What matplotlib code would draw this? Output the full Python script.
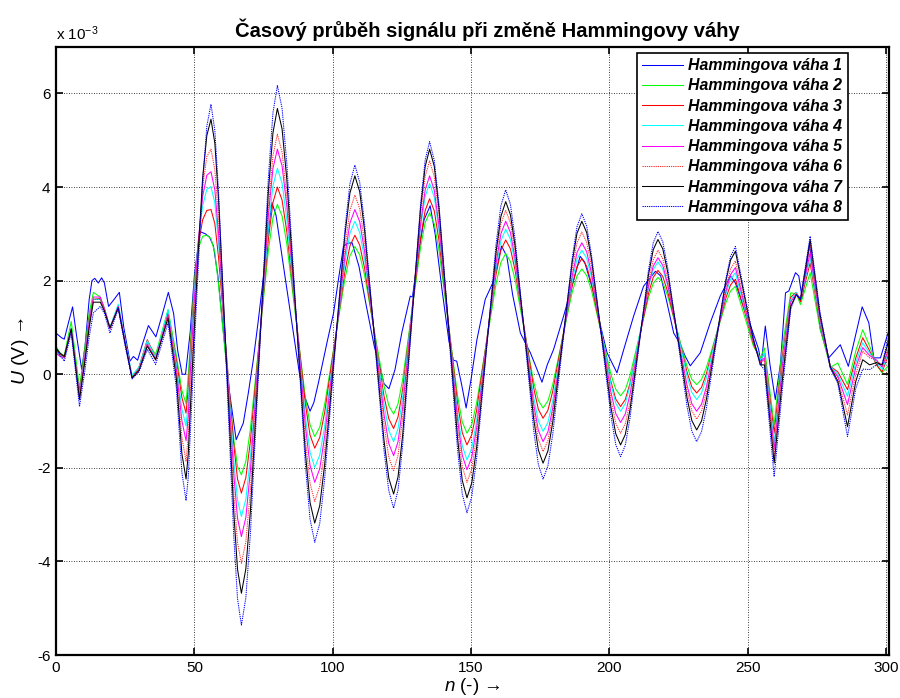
import matplotlib
matplotlib.use('Agg')
import matplotlib.pyplot as plt

plt.rcParams['font.family'] = ['Liberation Sans', 'DejaVu Sans']
plt.rcParams['mathtext.fontset'] = 'custom'
plt.rcParams['mathtext.rm'] = 'Liberation Sans'
plt.rcParams['mathtext.it'] = 'Liberation Sans:italic'
plt.rcParams['mathtext.bf'] = 'Liberation Sans:bold'
plt.rcParams['axes.unicode_minus'] = False

# ---------------- data (U in units of 1e-3 V) ----------------
TITLE = 'Časový průběh signálu při změně Hammingovy váhy'
LABELS = ['Hammingova váha %d' % k for k in range(1, 9)]
X_TICKS = [0, 50, 100, 150, 200, 250, 300]
Y_TICKS = [-6, -4, -2, 0, 2, 4, 6]

# series 1 (own sample positions)
N1 = [0, 2, 3, 4.5, 6, 7.5, 9.3, 10.5, 12, 13, 14, 15.3, 16.5, 17.5, 19, 21, 22.9, 24.5,
      26.7, 28, 29.5, 31, 33.4, 36.1, 38.5, 40.6, 42.5, 44, 45.6, 46.8, 48.5, 50, 52, 54,
      55.5, 56.9, 58.5, 60.5, 62.5, 65.1, 67.7, 69.5, 71.3, 73, 75, 77, 78, 79.5, 82.2, 85,
      88, 90, 91.8, 93.2, 94.8, 97.9, 100.3, 102, 103.9, 105.5, 107, 109.5, 112, 115, 117.3,
      118.5, 120.3, 122.5, 125, 128, 128.8, 131, 133, 135.2, 137, 139.5, 142, 143.6, 144.8,
      146.5, 148.2, 150, 152.1, 155.1, 158.1, 161, 162.9, 165, 167.8, 171.4, 173.5, 175.6,
      177.5, 179.8, 183.4, 185.8, 189.4, 191, 194.3, 196.5, 199.1, 202.7, 205.5, 208.7,
      212.3, 216.6, 218.5, 220.5, 223.2, 225.5, 227.4, 229.2, 232.8, 236.4, 240, 243.7,
      245.5, 247.9, 251.5, 253.9, 254.8, 256.3, 258, 259.9, 261.8, 263.6, 264.8, 267.2,
      268.4, 269.6, 272.3, 276.2, 279.2, 283.4, 286.3, 291.3, 293.7, 295.5, 297.9, 301]
S1 = [0.88, 0.78, 0.75, 1.1, 1.44, 0.8, 0.1, 0.6, 1.6, 2.0, 2.05, 1.95, 2.06, 1.95, 1.45, 1.6,
      1.75, 1.0, 0.28, 0.38, 0.3, 0.6, 1.04, 0.8, 1.3, 1.75, 1.3, 0.5, 0.0, 0.0, 0.9, 2.1,
      3.05, 3.0, 2.93, 2.74, 2.1, 0.9, -0.3, -1.4, -1.04, -0.4, 0.31, 1.1, 2.1, 3.2, 3.67,
      3.4, 2.31, 1.2, 0.0, -0.5, -0.79, -0.6, -0.19, 0.67, 1.31, 2.0, 2.74, 2.8, 2.81, 2.3,
      1.5, 0.6, 0.1, -0.2, -0.31, 0.1, 0.9, 1.67, 1.65, 2.6, 3.3, 3.6, 3.0, 1.8, 0.7, 0.3,
      0.28, -0.2, -0.72, -0.1, 0.74, 1.6, 1.99, 2.74, 2.52, 1.7, 0.88, 0.46, 0.15, -0.17,
      0.2, 0.53, 1.24, 1.74, 2.52, 2.4, 1.74, 1.1, 0.46, 0.03, 0.6, 1.24, 1.88, 2.2, 2.1,
      1.6, 0.88, 0.65, 0.38, 0.18, 0.46, 1.1, 1.67, 2.1, 1.95, 1.53, 0.95, 0.53, 0.2, 1.03,
      0.2, -0.54, 0.24, 1.74, 1.78, 2.17, 2.1, 1.63, 2.77, 0.95, 0.35, 0.63, 0.17, 1.44,
      1.1, 0.35, 0.35, 0.95]

# series 2..8 share sample positions
N_GRID = [0, 1.5, 3, 5.5, 8.5, 10.5, 12, 13.5, 16, 17.5, 19.5, 22.5, 25, 27.5, 30, 33, 36, 40.5,
          43.5, 45.5, 47, 47.8,
          48.5, 50, 51.5, 53, 54.5, 56,
          57.4, 58.75, 61.5, 64.25, 65.6, 67,
          68.6, 70.25, 73.5, 76.75, 78.4, 80,
          81.7, 83.4, 86.75, 90.1, 91.8, 93.5,
          95.3, 97.1, 100.75, 104.4, 106.2, 108,
          109.75, 111.5, 115, 118.5, 120.25, 122,
          123.6, 125.25, 128.5, 131.75, 133.4, 135,
          136.7, 138.4, 141.75, 145.1, 146.8, 148.5,
          150.25, 152, 155.5, 159, 160.75, 162.5,
          164.2, 165.9, 169.25, 172.6, 174.3, 176,
          177.75, 179.5, 183, 186.5, 188.25, 190,
          191.75, 193.5, 197, 200.5, 202.25, 204,
          205.7, 207.4, 210.75, 214.1, 215.8, 217.5,
          219.25, 221, 224.5, 228, 229.75, 231.5,
          233.25, 235, 238.5, 242, 243.75, 245.5,
          249.5, 252, 254.5, 256, 259.5, 262.5, 265.5, 267.5, 269, 272.5, 276, 279.8, 282.5, 286,
          289, 291.5, 294, 296.5, 298.5, 301]

S2 = [0.6, 0.45, 0.4, 1.13, -0.29, 0.6, 1.3, 1.75, 1.65, 1.4, 1.0, 1.45, 0.7, -0.05, 0.15, 0.7, 0.42, 1.38,
      0.4, -0.35, -0.63, 0.0,
      0.6, 2.0, 2.7, 2.95, 2.97, 2.9,
      2.6, 1.9, 0.25, -1.4, -1.97, -2.15,
      -1.86, -1.17, 0.74, 2.65, 3.34, 3.63,
      3.38, 2.79, 1.15, -0.49, -1.08, -1.33,
      -1.13, -0.64, 0.70, 2.04, 2.53, 2.73,
      2.55, 2.12, 0.94, -0.24, -0.67, -0.85,
      -0.63, -0.12, 1.30, 2.72, 3.24, 3.45,
      3.21, 2.65, 1.09, -0.46, -1.02, -1.26,
      -1.07, -0.61, 0.66, 1.93, 2.39, 2.58,
      2.41, 2.02, 0.93, -0.16, -0.56, -0.72,
      -0.57, -0.22, 0.77, 1.75, 2.10, 2.25,
      2.11, 1.79, 0.89, 0.00, -0.32, -0.46,
      -0.33, -0.03, 0.81, 1.64, 1.94, 2.07,
      1.96, 1.68, 0.92, 0.17, -0.11, -0.22,
      -0.11, 0.14, 0.83, 1.52, 1.78, 1.88,
      1.1, 0.6, 0.35, 0.56, -1.08, 0.6, 1.74, 1.72, 1.49, 2.17, 1.0, 0.15, 0.24, -0.22,
      0.5, 0.95, 0.6, 0.2, 0.03, 0.2]

S3 = [0.55, 0.42, 0.38, 0.95, -0.4, 0.5, 1.2, 1.6, 1.62, 1.4, 0.99, 1.45, 0.7, -0.08, 0.15, 0.74, 0.35, 1.31,
      0.3, -0.5, -0.83, -0.3,
      0.4, 1.9, 2.8, 3.3, 3.5, 3.52,
      3.22, 2.49, 0.49, -1.51, -2.24, -2.54,
      -2.21, -1.43, 0.73, 2.89, 3.67, 4.00,
      3.72, 3.05, 1.21, -0.63, -1.30, -1.58,
      -1.35, -0.81, 0.70, 2.20, 2.74, 2.97,
      2.76, 2.27, 0.90, -0.46, -0.95, -1.16,
      -0.91, -0.33, 1.30, 2.92, 3.50, 3.75,
      3.49, 2.86, 1.12, -0.62, -1.25, -1.51,
      -1.29, -0.77, 0.68, 2.13, 2.65, 2.87,
      2.68, 2.22, 0.96, -0.29, -0.75, -0.94,
      -0.77, -0.36, 0.77, 1.89, 2.30, 2.47,
      2.31, 1.93, 0.89, -0.15, -0.53, -0.69,
      -0.54, -0.20, 0.77, 1.73, 2.07, 2.22,
      2.09, 1.77, 0.91, 0.05, -0.27, -0.40,
      -0.28, 0.01, 0.82, 1.62, 1.91, 2.03,
      1.2, 0.65, 0.3, 0.45, -1.26, 0.4, 1.65, 1.75, 1.55, 2.38, 1.1, 0.17, 0.05, -0.33,
      0.35, 0.78, 0.5, 0.2, 0.05, 0.45]

S4 = [0.5, 0.4, 0.36, 1.0, -0.45, 0.45, 1.15, 1.6, 1.6, 1.4, 1.0, 1.5, 0.72, -0.02, 0.15, 0.72, 0.35, 1.38,
      0.2, -0.75, -1.11, -0.6,
      0.2, 1.8, 2.9, 3.6, 3.95, 4.01,
      3.66, 2.81, 0.49, -1.84, -2.69, -3.04,
      -2.67, -1.78, 0.68, 3.14, 4.03, 4.40,
      4.08, 3.31, 1.20, -0.90, -1.67, -1.99,
      -1.73, -1.10, 0.64, 2.38, 3.01, 3.27,
      3.03, 2.47, 0.91, -0.64, -1.20, -1.44,
      -1.16, -0.50, 1.32, 3.14, 3.80, 4.08,
      3.78, 3.08, 1.12, -0.83, -1.53, -1.83,
      -1.58, -0.99, 0.64, 2.26, 2.85, 3.10,
      2.88, 2.37, 0.94, -0.49, -1.00, -1.22,
      -1.03, -0.56, 0.72, 1.99, 2.46, 2.65,
      2.48, 2.07, 0.93, -0.21, -0.62, -0.79,
      -0.63, -0.25, 0.81, 1.86, 2.24, 2.40,
      2.25, 1.90, 0.93, -0.04, -0.39, -0.54,
      -0.40, -0.08, 0.82, 1.71, 2.03, 2.17,
      1.25, 0.7, 0.3, 0.45, -1.47, 0.3, 1.6, 1.75, 1.6, 2.49, 1.15, 0.17, 0.0, -0.47,
      0.25, 0.67, 0.45, 0.25, 0.1, 0.5]

S5 = [0.45, 0.38, 0.35, 0.95, -0.5, 0.4, 1.1, 1.65, 1.65, 1.4, 0.97, 1.45, 0.68, -0.08, 0.1, 0.65, 0.32, 1.28,
      0.1, -1.0, -1.42, -0.9,
      0.0, 1.6, 2.9, 3.8, 4.25, 4.33,
      3.94, 3.00, 0.43, -2.14, -3.08, -3.47,
      -3.06, -2.06, 0.67, 3.40, 4.40, 4.81,
      4.45, 3.60, 1.25, -1.10, -1.95, -2.31,
      -2.02, -1.32, 0.61, 2.53, 3.23, 3.52,
      3.26, 2.63, 0.89, -0.85, -1.48, -1.74,
      -1.44, -0.72, 1.25, 3.22, 3.94, 4.24,
      3.93, 3.17, 1.10, -0.97, -1.73, -2.04,
      -1.77, -1.14, 0.62, 2.37, 3.00, 3.27,
      3.03, 2.47, 0.91, -0.64, -1.20, -1.44,
      -1.23, -0.72, 0.69, 2.09, 2.60, 2.81,
      2.62, 2.16, 0.89, -0.38, -0.84, -1.03,
      -0.85, -0.43, 0.73, 1.89, 2.31, 2.49,
      2.33, 1.93, 0.85, -0.23, -0.63, -0.79,
      -0.64, -0.27, 0.75, 1.76, 2.13, 2.28,
      1.3, 0.7, 0.25, 0.35, -1.61, 0.2, 1.55, 1.72, 1.6, 2.60, 1.2, 0.15, -0.05, -0.65,
      0.15, 0.57, 0.4, 0.3, 0.15, 0.55]

S6 = [0.5, 0.4, 0.36, 0.97, -0.5, 0.35, 1.05, 1.6, 1.6, 1.38, 0.97, 1.42, 0.66, -0.08, 0.1, 0.62, 0.3, 1.25,
      0.0, -1.35, -1.86, -1.3,
      -0.4, 1.3, 2.8, 4.0, 4.65, 4.81,
      4.37, 3.31, 0.38, -2.54, -3.60, -4.04,
      -3.58, -2.48, 0.55, 3.57, 4.67, 5.13,
      4.74, 3.80, 1.20, -1.39, -2.33, -2.72,
      -2.39, -1.61, 0.56, 2.72, 3.50, 3.83,
      3.54, 2.83, 0.88, -1.06, -1.77, -2.06,
      -1.73, -0.93, 1.25, 3.43, 4.23, 4.56,
      4.22, 3.39, 1.12, -1.14, -1.97, -2.31,
      -2.02, -1.32, 0.60, 2.51, 3.21, 3.50,
      3.24, 2.62, 0.92, -0.77, -1.39, -1.65,
      -1.42, -0.85, 0.70, 2.24, 2.81, 3.04,
      2.82, 2.31, 0.89, -0.53, -1.05, -1.26,
      -1.06, -0.60, 0.70, 1.99, 2.45, 2.65,
      2.47, 2.04, 0.84, -0.35, -0.78, -0.96,
      -0.79, -0.39, 0.73, 1.85, 2.25, 2.42,
      1.35, 0.7, 0.25, 0.3, -1.76, 0.05, 1.5, 1.72, 1.63, 2.77, 1.25, 0.17, -0.1, -0.87,
      0.0, 0.49, 0.35, 0.3, 0.17, 0.6]

S7 = [0.56, 0.45, 0.38, 0.97, -0.54, 0.3, 1.0, 1.54, 1.54, 1.35, 0.99, 1.42, 0.65, -0.08, 0.08, 0.6, 0.31, 1.2,
      -0.1, -1.7, -2.24, -1.7,
      -0.8, 1.0, 2.7, 4.2, 5.1, 5.45,
      4.94, 3.73, 0.38, -2.96, -4.17, -4.68,
      -4.16, -2.92, 0.50, 3.92, 5.16, 5.68,
      5.24, 4.17, 1.25, -1.67, -2.74, -3.18,
      -2.81, -1.92, 0.53, 2.98, 3.87, 4.24,
      3.90, 3.08, 0.84, -1.40, -2.22, -2.56,
      -2.19, -1.31, 1.13, 3.56, 4.44, 4.81,
      4.44, 3.54, 1.08, -1.37, -2.27, -2.64,
      -2.32, -1.56, 0.53, 2.61, 3.37, 3.69,
      3.41, 2.74, 0.89, -0.95, -1.62, -1.90,
      -1.64, -1.02, 0.69, 2.39, 3.01, 3.27,
      3.03, 2.46, 0.88, -0.70, -1.27, -1.51,
      -1.29, -0.76, 0.69, 2.13, 2.66, 2.88,
      2.68, 2.19, 0.84, -0.50, -0.99, -1.19,
      -1.00, -0.54, 0.72, 1.98, 2.44, 2.63,
      1.45, 0.75, 0.2, 0.2, -1.90, -0.1, 1.45, 1.7, 1.6, 2.88, 1.3, 0.15, -0.15, -1.12,
      -0.15, 0.31, 0.2, 0.25, 0.2, 0.75]

S8 = [0.55, 0.4, 0.28, 0.88, -0.69, 0.1, 0.8, 1.31, 1.45, 1.3, 0.88, 1.4, 0.6, -0.1, 0.05, 0.53, 0.21, 1.1,
      -0.3, -2.1, -2.70, -2.2,
      -1.3, 0.6, 2.4, 4.1, 5.3, 5.77,
      5.21, 3.88, 0.20, -3.47, -4.80, -5.36,
      -4.78, -3.40, 0.41, 4.21, 5.59, 6.17,
      5.68, 4.51, 1.29, -1.93, -3.10, -3.59,
      -3.19, -2.22, 0.44, 3.10, 4.07, 4.47,
      4.10, 3.22, 0.80, -1.61, -2.49, -2.86,
      -2.47, -1.53, 1.06, 3.64, 4.58, 4.97,
      4.57, 3.62, 1.00, -1.61, -2.56, -2.96,
      -2.61, -1.79, 0.49, 2.77, 3.60, 3.94,
      3.63, 2.89, 0.85, -1.19, -1.93, -2.24,
      -1.96, -1.28, 0.60, 2.47, 3.15, 3.43,
      3.17, 2.55, 0.83, -0.88, -1.50, -1.76,
      -1.52, -0.94, 0.65, 2.23, 2.81, 3.05,
      2.83, 2.29, 0.80, -0.68, -1.22, -1.44,
      -1.23, -0.73, 0.65, 2.02, 2.52, 2.73,
      1.5, 0.75, 0.2, 0.1, -2.19, -0.3, 1.4, 1.7, 1.6, 2.95, 1.35, 0.12, -0.2, -1.33,
      -0.3, 0.11, 0.1, 0.2, 0.22, 0.85]

# ---------------- styling ----------------
COLORS = ['#0000ff', '#00ff00', '#ff0000', '#00ffff', '#ff00ff', '#ff3030', '#000000', '#0000ff']
DOT = (0, (1.2, 0.9))
STYLES = ['-', '-', '-', '-', '-', DOT, '-', DOT]

fig = plt.figure(figsize=(9, 6.98), dpi=100)
ax = fig.add_axes([0.0622, 0.0616, 0.9256, 0.8715])

series = [(N1, S1)] + [(N_GRID, s) for s in (S2, S3, S4, S5, S6, S7, S8)]
for (xs, ys), c, ls, lab in zip(series, COLORS, STYLES, LABELS):
    ax.plot(xs, ys, color=c, linestyle=ls, linewidth=0.75, label=lab)

ax.set_xlim(0, 301)
ax.set_ylim(-6, 7)
ax.set_xticks(X_TICKS)
ax.set_yticks(Y_TICKS)
ax.grid(True, color='black', linestyle=(0, (1, 2)), linewidth=0.6)
ax.tick_params(direction='in', length=5, width=1.2, top=True, right=True,
               labelsize=11, pad=4, colors='black')
for sp in ax.spines.values():
    sp.set_linewidth(1.6)

ax.set_title(TITLE, fontsize=14.5, fontweight='bold', pad=7, x=0.518)
ax.text(0.0, 1.006, r'x 10$^{-3}$', transform=ax.transAxes, ha='left', va='bottom', fontsize=11)
ax.set_xlabel(r'$\mathit{n}$ (-) →', fontsize=13.5)
ax.xaxis.set_label_coords(0.5, -0.034)
ax.set_ylabel(r'$\mathit{U}$ (V) →', fontsize=14)
ax.yaxis.set_label_coords(-0.03, 0.5)

leg = ax.legend(loc='upper right', bbox_to_anchor=(0.9504, 0.9902), borderaxespad=0,
                prop=dict(weight='bold', style='italic', size=11.4),
                handlelength=2.55, handletextpad=0.35, labelspacing=0.33,
                borderpad=0.35, fancybox=False, framealpha=1, edgecolor='black')
leg.get_frame().set_linewidth(1.2)

fig.savefig('out.png', dpi=100, facecolor='white')
